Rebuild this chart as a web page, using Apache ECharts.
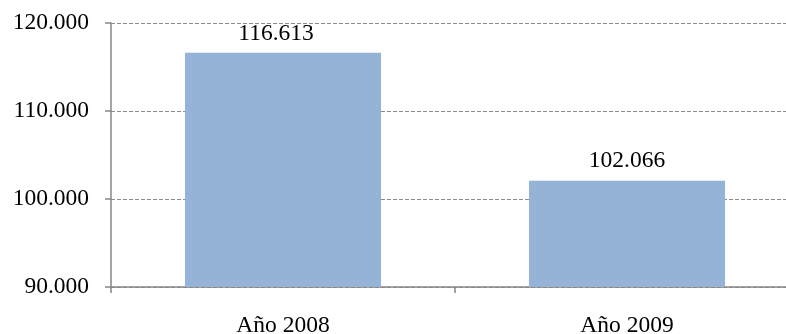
<!DOCTYPE html>
<html>
<head>
<meta charset="utf-8">
<script src="https://cdn.jsdelivr.net/npm/echarts@6/dist/echarts.min.js"></script>
<style>
html,body{margin:0;padding:0;background:#fff;overflow:hidden;}
#c{width:786px;height:334px;}
</style>
</head>
<body>
<div id="c"></div>
<script>
const categories = ['Año 2008', 'Año 2009'];
const values = [116613, 102066];
const yTicks = [90000, 100000, 110000, 120000];

function fmt(v) {
  return String(Math.round(v)).replace(/\B(?=(\d{3})+(?!\d))/g, '.');
}

const font = '"Liberation Serif", "Times New Roman", serif';
const chart = echarts.init(document.getElementById('c'), null, {renderer: 'canvas'});
const seriesData = values.map((v, i) => i === 0
  ? {value: v, label: {offset: [-7, 1]}}
  : {value: v});
chart.setOption({
  animation: false,
  backgroundColor: '#ffffff',
  grid: {left: 111, top: 23, width: 688, height: 264, containLabel: false, outerBoundsMode: 'none'},
  xAxis: {
    type: 'category',
    data: categories,
    boundaryGap: true,
    axisLine: {show: true, lineStyle: {color: '#868686', width: 1.5}},
    axisTick: {show: true, alignWithLabel: false, length: 6, lineStyle: {color: '#868686', width: 1.5}},
    axisLabel: {margin: 27, color: '#000', fontFamily: font, fontSize: 23.5}
  },
  yAxis: {
    type: 'value',
    min: yTicks[0],
    max: yTicks[yTicks.length - 1],
    interval: yTicks[1] - yTicks[0],
    axisLine: {show: true, lineStyle: {color: '#868686', width: 1.5}},
    axisTick: {show: true, length: 6, lineStyle: {color: '#868686', width: 1.5}},
    axisLabel: {margin: 22, color: '#000', fontFamily: font, fontSize: 23.5, formatter: fmt},
    splitLine: {show: true, lineStyle: {color: '#8a8a8a', type: [4, 2], width: 1}}
  },
  series: [{
    type: 'bar',
    data: seriesData,
    barWidth: '57%',
    itemStyle: {color: '#95B3D7'},
    label: {
      show: true,
      position: 'top',
      distance: 8,
      color: '#000',
      fontFamily: font,
      fontSize: 23.5,
      formatter: p => fmt(p.value)
    }
  }]
});
</script>
</body>
</html>
